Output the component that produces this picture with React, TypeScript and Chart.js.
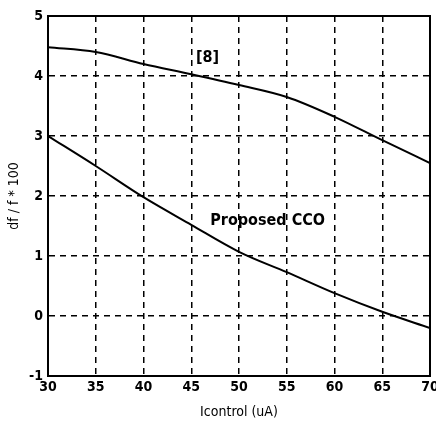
import React, { useEffect, useRef } from "react";
import { Chart, registerables } from "chart.js";

Chart.register(...registerables);

const xValues = [30, 35, 40, 45, 50, 55, 60, 65, 70];
const ref8 = [4.48, 4.4, 4.2, 4.03, 3.85, 3.65, 3.32, 2.93, 2.55];
const proposed = [3.0, 2.5, 1.98, 1.52, 1.07, 0.73, 0.38, 0.07, -0.2];
const labelRef8 = "[8]";
const labelProposed = "Proposed CCO";
const xTitle = "Icontrol (uA)";
const yTitle = "df / f * 100";

const FONT = "'DejaVu Sans Condensed', 'Liberation Sans Narrow', 'Liberation Sans', sans-serif";

export default function App() {
  const canvasRef = useRef<HTMLCanvasElement | null>(null);

  useEffect(() => {
    document.body.style.margin = "0";
    const canvas = canvasRef.current;
    if (!canvas) return;

    const framePlugin = {
      id: "frameAndLabels",
      afterDraw(chart: any) {
        const { ctx, chartArea } = chart;
        const xs = chart.scales.x;
        const ys = chart.scales.y;
        ctx.save();
        ctx.strokeStyle = "#000";
        ctx.lineWidth = 2;
        ctx.setLineDash([]);
        ctx.strokeRect(chartArea.left, chartArea.top, chartArea.right - chartArea.left, chartArea.bottom - chartArea.top);
        ctx.fillStyle = "#000";
        ctx.font = `bold 16px ${FONT}`;
        ctx.textAlign = "center";
        ctx.textBaseline = "middle";
        ctx.fillText(labelRef8, xs.getPixelForValue(46.7), ys.getPixelForValue(4.3));
        ctx.fillText(labelProposed, xs.getPixelForValue(53.0), ys.getPixelForValue(1.58));
        ctx.restore();
      },
    };

    const chart = new Chart(canvas, {
      type: "line",
      data: {
        datasets: [
          {
            label: "[8]",
            data: xValues.map((x, i) => ({ x, y: ref8[i] })),
            borderColor: "#000",
            borderWidth: 2,
            pointRadius: 0,
            cubicInterpolationMode: "monotone",
          },
          {
            label: "Proposed CCO",
            data: xValues.map((x, i) => ({ x, y: proposed[i] })),
            borderColor: "#000",
            borderWidth: 2,
            pointRadius: 0,
            cubicInterpolationMode: "monotone",
          },
        ],
      },
      options: {
        animation: false,
        responsive: false,
        devicePixelRatio: 1,
        layout: { padding: { left: 0, right: 6, top: 16, bottom: 0 } },
        plugins: { legend: { display: false }, tooltip: { enabled: false } },
        scales: {
          x: {
            type: "linear",
            min: 30,
            max: 70,
            ticks: { stepSize: 5, color: "#000", font: { family: FONT, size: 14, weight: "bold" }, padding: 3 },
            grid: { color: "#000", lineWidth: 1.5, drawTicks: false },
            border: { display: true, color: "#000", width: 2, dash: [6, 5] } as any,
            title: { display: true, text: xTitle, color: "#000", font: { family: FONT, size: 14 }, padding: { top: 0, bottom: 6 } },
            afterFit(scale: any) {
              scale.height = 51;
              scale.paddingRight = 0;
              scale.paddingLeft = 0;
            },
          },
          y: {
            type: "linear",
            min: -1,
            max: 5,
            ticks: { stepSize: 1, color: "#000", font: { family: FONT, size: 14, weight: "bold" }, padding: 5 },
            grid: { color: "#000", lineWidth: 1.5, drawTicks: false },
            border: { display: true, color: "#000", width: 2, dash: [6, 5] } as any,
            title: { display: true, text: yTitle, color: "#000", font: { family: FONT, size: 14 }, padding: { top: 6, bottom: 0 } },
            afterFit(scale: any) {
              scale.width = 48;
              scale.paddingTop = 0;
            },
          },
        },
      } as any,
      plugins: [framePlugin],
    });
    return () => chart.destroy();
  }, []);

  return <canvas ref={canvasRef} width={436} height={427} style={{ display: "block" }} />;
}
